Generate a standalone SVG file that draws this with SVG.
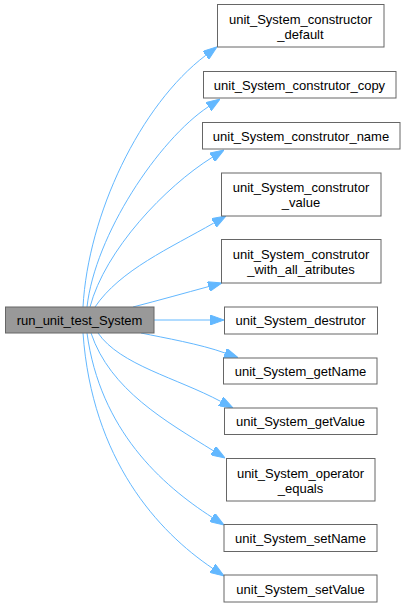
<svg xmlns="http://www.w3.org/2000/svg" width="405" height="608" viewBox="0 0 405 608">
<style>
.node rect{fill:#ffffff;stroke:#666666;stroke-width:1}
.root rect{fill:#999999;stroke:#666666;stroke-width:1}
text{font-family:"Liberation Sans",Arial,Helvetica,sans-serif;font-size:13px;fill:#000000;text-anchor:middle}
.edges path{fill:none;stroke:#63b8ff;stroke-width:1;marker-end:url(#arr)}
</style>
<defs>
<marker id="arr" viewBox="0 0 14 10" refX="0" refY="5" markerWidth="14" markerHeight="10" markerUnits="userSpaceOnUse" orient="auto">
<path d="M0,0 L14,5 L0,10 Z" fill="#63b8ff" stroke="#63b8ff" stroke-width="1"/>
</marker>
</defs>
<rect x="0" y="0" width="405" height="608" fill="#ffffff"/>
<g class="edges" id="edges">
<path d="M83,307 C88,215 140,105 205.8,55.3"/>
<path d="M87,307 C95,235 158.6,139.7 208.4,106.7"/>
<path d="M90,307 C105,250 165.3,186.6 212.1,157.4"/>
<path d="M95,307 C120,270 170.3,248 213.8,223"/>
<path d="M133,307 C160,300 185,293 208.5,286.6"/>
<path d="M154,320 L210,320"/>
<path d="M141,333 C165,338 200,344 225,353"/>
<path d="M98,333 C120,365 176.7,377.9 220.7,401.4"/>
<path d="M91,333 C110,390 166.4,421.5 213.1,450.6"/>
<path d="M87,333 C100,430 161.8,485 212.2,517.4"/>
<path d="M83,333 C92,460 158.4,531.8 212.4,568.2"/>
</g>
<g class="root" id="run_unit_test_System">
<rect x="5.5" y="307" width="148.5" height="26"/>
<text x="79.5" y="325">run_unit_test_System</text>
</g>
<g class="node" id="unit_System_constructor_default">
<rect x="217.5" y="4.5" width="166.5" height="42.5"/>
<text x="300.5" y="23.5">unit_System_constructor</text>
<text x="300.5" y="38.5">_default</text>
</g>
<g class="node" id="unit_System_construtor_copy">
<rect x="203.5" y="71.5" width="192.5" height="26.5"/>
<text x="299.5" y="89.5">unit_System_construtor_copy</text>
</g>
<g class="node" id="unit_System_construtor_name">
<rect x="202.5" y="122.5" width="197.5" height="26.5"/>
<text x="301" y="141">unit_System_construtor_name</text>
</g>
<g class="node" id="unit_System_construtor_value">
<rect x="221.5" y="173" width="159.5" height="43"/>
<text x="301" y="192">unit_System_construtor</text>
<text x="301" y="207">_value</text>
</g>
<g class="node" id="unit_System_construtor_with_all_atributes">
<rect x="221.5" y="239.5" width="159.5" height="43.5"/>
<text x="301" y="258.5">unit_System_construtor</text>
<text x="301" y="273.5">_with_all_atributes</text>
</g>
<g class="node" id="unit_System_destrutor">
<rect x="224.5" y="307" width="153" height="27"/>
<text x="300.5" y="325">unit_System_destrutor</text>
</g>
<g class="node" id="unit_System_getName">
<rect x="223.5" y="358" width="153.5" height="26"/>
<text x="300.5" y="376">unit_System_getName</text>
</g>
<g class="node" id="unit_System_getValue">
<rect x="224.5" y="408" width="152.5" height="26.5"/>
<text x="300.5" y="426">unit_System_getValue</text>
</g>
<g class="node" id="unit_System_operator_equals">
<rect x="226.5" y="458.5" width="148.5" height="42.5"/>
<text x="300.5" y="477.5">unit_System_operator</text>
<text x="300.5" y="492.5">_equals</text>
</g>
<g class="node" id="unit_System_setName">
<rect x="224" y="524.5" width="153" height="27"/>
<text x="300.5" y="543">unit_System_setName</text>
</g>
<g class="node" id="unit_System_setValue">
<rect x="224" y="575" width="153" height="27"/>
<text x="300.5" y="593.5">unit_System_setValue</text>
</g>
</svg>
